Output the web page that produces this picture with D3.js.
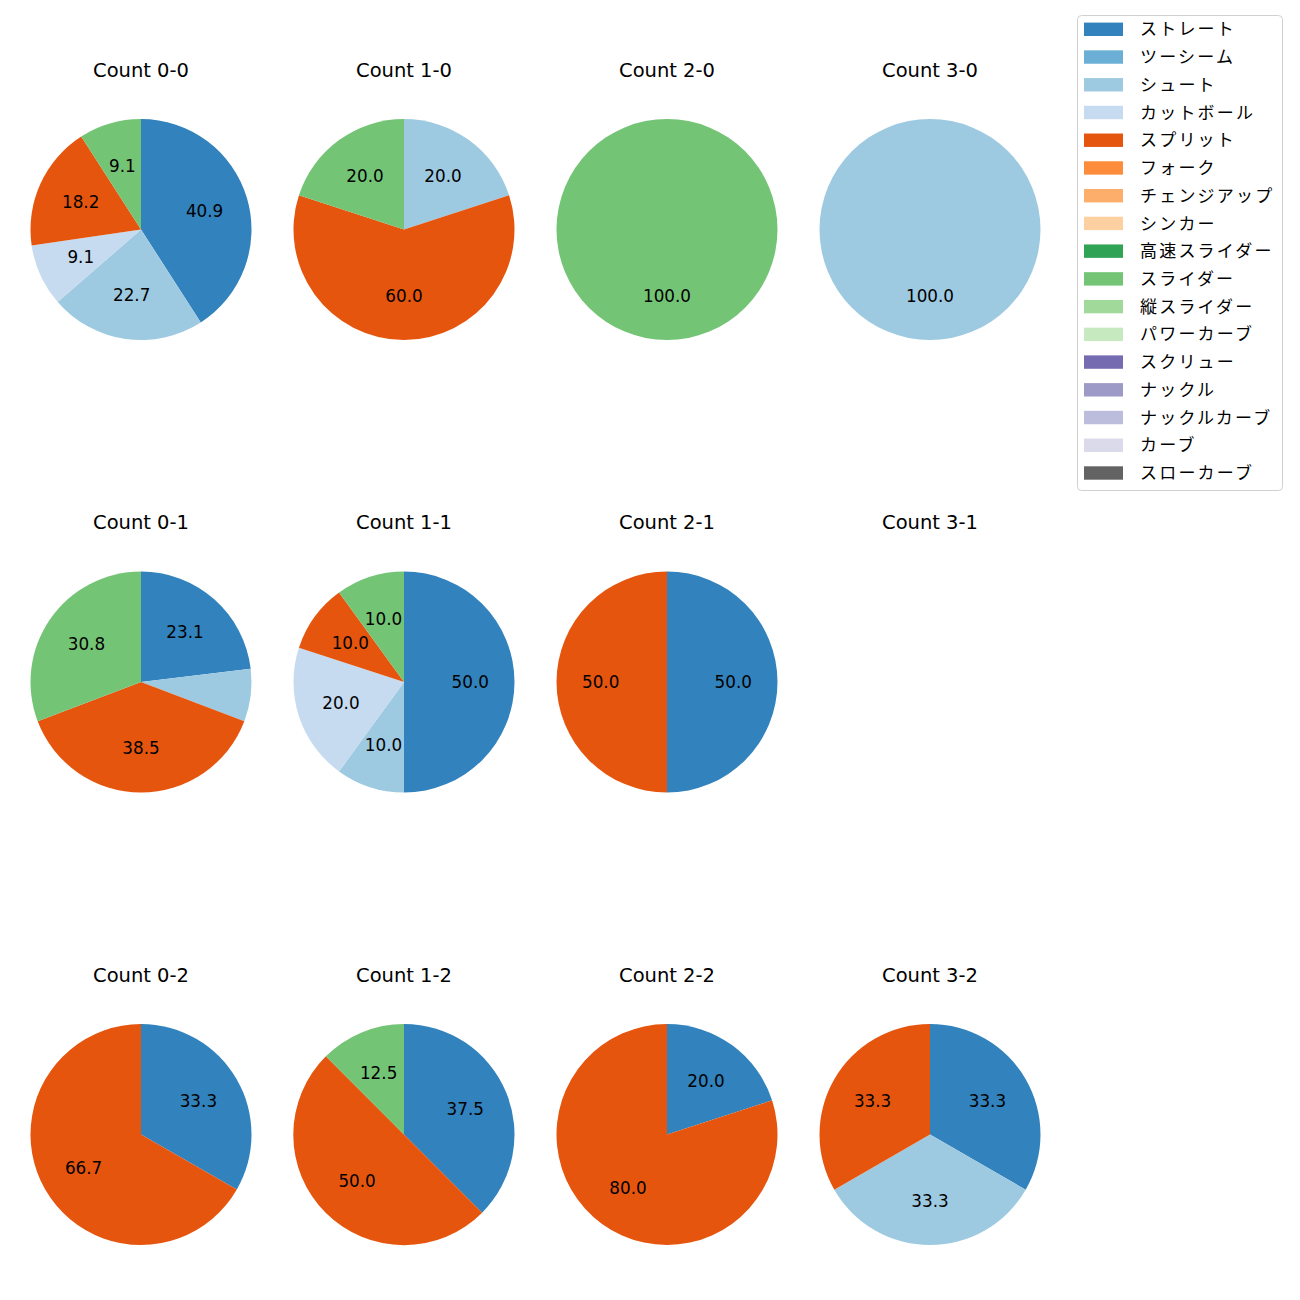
<!DOCTYPE html>
<html>
<head>
<meta charset="utf-8">
<script src="https://cdn.jsdelivr.net/npm/d3@7"></script>
<style>
body { margin: 0; background: #fff; }
text { font-family: "DejaVu Sans", "Noto Sans CJK JP", sans-serif; }
text.jp { font-family: "Noto Sans CJK JP", "Noto Sans", sans-serif; }
</style>
</head>
<body>
<div id="chart"></div>
<script>
const pitchTypes = ["ストレート","ツーシーム","シュート","カットボール","スプリット","フォーク","チェンジアップ","シンカー","高速スライダー","スライダー","縦スライダー","パワーカーブ","スクリュー","ナックル","ナックルカーブ","カーブ","スローカーブ"];
const pitchColors = ["#3182bd","#6baed6","#9ecae1","#c6dbef","#e6550d","#fd8d3c","#fdae6b","#fdd0a2","#31a354","#74c476","#a1d99b","#c7e9c0","#756bb1","#9e9ac8","#bcbddc","#dadaeb","#636363"];
const countLabels = ["0-0","1-0","2-0","3-0","0-1","1-1","2-1","3-1","0-2","1-2","2-2","3-2"];
// percentages per pitch type (same order as pitchTypes)
const count00 = [40.9,0,22.7,9.1,18.2,0,0,0,0,9.1,0,0,0,0,0,0,0];
const count10 = [0,0,20.0,0,60.0,0,0,0,0,20.0,0,0,0,0,0,0,0];
const count20 = [0,0,0,0,0,0,0,0,0,100.0,0,0,0,0,0,0,0];
const count30 = [0,0,100.0,0,0,0,0,0,0,0,0,0,0,0,0,0,0];
const count01 = [23.1,0,7.7,0,38.5,0,0,0,0,30.8,0,0,0,0,0,0,0];
const count11 = [50.0,0,10.0,20.0,10.0,0,0,0,0,10.0,0,0,0,0,0,0,0];
const count21 = [50.0,0,0,0,50.0,0,0,0,0,0,0,0,0,0,0,0,0];
const count31 = [];
const count02 = [33.3,0,0,0,66.7,0,0,0,0,0,0,0,0,0,0,0,0];
const count12 = [37.5,0,0,0,50.0,0,0,0,0,12.5,0,0,0,0,0,0,0];
const count22 = [20.0,0,0,0,80.0,0,0,0,0,0,0,0,0,0,0,0,0];
const count32 = [33.3,0,33.3,0,33.3,0,0,0,0,0,0,0,0,0,0,0,0];
const countValues = [count00,count10,count20,count30,count01,count11,count21,count31,count02,count12,count22,count32];

const W = 1300, H = 1300;
const svg = d3.select("#chart").append("svg").attr("width", W).attr("height", H);

const colX = d3.scalePoint().domain([0,1,2,3]).range([141, 930]);
const rowY = d3.scalePoint().domain([0,1,2]).range([229.5, 1134.5]);
const R = 110.5;
const color = d3.scaleOrdinal().domain(pitchTypes).range(pitchColors);

const pie = d3.pie().sort(null).value(d => d.v).startAngle(0).endAngle(2*Math.PI);
const arc = d3.arc().innerRadius(0).outerRadius(R);
const labelArc = d3.arc().innerRadius(R*0.6).outerRadius(R*0.6);

countLabels.forEach((c, i) => {
  const col = i % 4, row = Math.floor(i / 4);
  const cx = colX(col), cy = rowY(row);
  const g = svg.append("g").attr("transform", `translate(${cx},${cy})`);
  g.append("text").attr("x", 0).attr("y", -160).attr("dy", "0.36em")
    .attr("text-anchor", "middle").attr("font-size", 19.5).attr("fill", "#000")
    .text("Count " + c);
  const vals = countValues[i];
  if (!vals.length) return;
  const data = pitchTypes.map((p, k) => ({p, v: vals[k]})).filter(d => d.v > 0);
  const arcs = pie(data);
  g.selectAll("path").data(arcs).join("path")
    .attr("d", arc).attr("fill", d => color(d.data.p));
  g.selectAll("text.lbl").data(arcs.filter(d => d.data.v >= 8)).join("text")
    .attr("class", "lbl")
    .attr("transform", d => `translate(${labelArc.centroid(d)})`)
    .attr("text-anchor", "middle").attr("dy", "0.36em")
    .attr("font-size", 16.8).attr("fill", "#000")
    .text(d => d.data.v.toFixed(1));
});

// Legend
const lg = svg.append("g");
lg.append("rect").attr("x", 1077.5).attr("y", 15.5).attr("width", 205).attr("height", 475)
  .attr("rx", 4).attr("fill", "#fff").attr("stroke", "#d0d0d0");
const ly = d3.scaleLinear().domain([0, pitchTypes.length - 1]).range([29.3, 473]);
pitchTypes.forEach((p, k) => {
  lg.append("rect").attr("x", 1084).attr("y", ly(k) - 6.7).attr("width", 39).attr("height", 13.4)
    .attr("fill", color(p));
  lg.append("text").attr("class", "jp").attr("x", 1140).attr("y", ly(k)).attr("dy", "0.36em")
    .attr("font-size", 17).attr("letter-spacing", 2.2).attr("fill", "#000").text(p);
});
</script>
</body>
</html>
